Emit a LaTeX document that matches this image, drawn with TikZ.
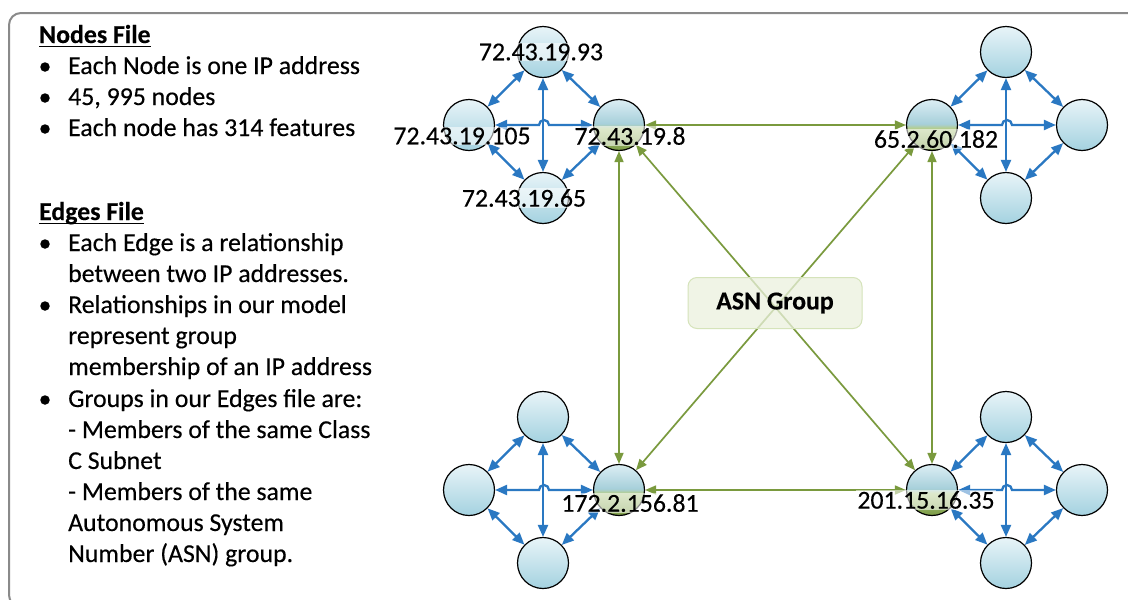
\documentclass[tikz,border=0pt]{standalone}
\usepackage{fontspec}
\setmainfont[FakeBold=0.3,BoldFeatures={FakeBold=0.3}]{Carlito}
\usetikzlibrary{arrows.meta}
\definecolor{leafTop}{HTML}{E8F4F8}
\definecolor{leafBot}{HTML}{A4D2E0}
\definecolor{hubTop}{HTML}{DCEEF4}
\definecolor{hubMid}{HTML}{A6CFDA}
\definecolor{hubGr}{HTML}{B5CD8C}
\definecolor{hubBot}{HTML}{7A9A44}
\definecolor{linkBlue}{HTML}{2A78C2}
\definecolor{linkGreen}{HTML}{7A9A3E}
\definecolor{frameGray}{HTML}{8A8A8A}
\definecolor{asnFill}{HTML}{EBF1DE}
\definecolor{asnDraw}{HTML}{D5E3BA}
\pgfdeclareverticalshading{hubshade}{100bp}{color(0bp)=(hubBot); color(25bp)=(hubBot); color(47bp)=(hubGr); color(51bp)=(hubMid); color(75bp)=(hubTop); color(100bp)=(hubTop)}
\newcommand\clusterlinks[5]{%
  \draw[bluelink] (#1) -- (#2);
  \draw[bluelink] (#1) -- (#3);
  \draw[bluelink] (#4) -- (#2);
  \draw[bluelink] (#4) -- (#3);
  \draw[bluelink] (#1) -- (#4);
  \draw[bluelink] (#2.east) -- ([xshift=-5pt]#5) arc[start angle=180,end angle=360,radius=5] -- (#3.west);
}
\begin{document}
\begin{tikzpicture}[x=1pt,y=-1pt,
  txt/.style={anchor=base west, inner sep=0pt, font=\fontsize{25.8}{31}\selectfont},
  hd/.style={anchor=base west, inner sep=0pt, font=\fontsize{25.8}{31}\selectfont\bfseries},
  bul/.style={circle, fill=black, inner sep=0pt, minimum size=9.5pt},
  leaf/.style={circle, draw=black, line width=1.2pt, minimum size=51pt, inner sep=0pt, top color=leafTop, bottom color=leafBot},
  hub/.style={circle, draw=black, line width=1.2pt, minimum size=51pt, inner sep=0pt, shade, shading=hubshade},
  lbl/.style={fill=white, fill opacity=0.55, text opacity=1, inner sep=1pt, font=\fontsize{25.8}{31}\selectfont},
  bluelink/.style={draw=linkBlue, line width=2.3pt, {Triangle[length=12pt,width=10pt]}-{Triangle[length=12pt,width=10pt]}},
  greenlink/.style={draw=linkGreen, line width=1.7pt, {Triangle[length=11pt,width=9pt]}-{Triangle[length=11pt,width=9pt]}}
]
\useasboundingbox (0,0) rectangle (1128,600);
\clip (0,0) rectangle (1128,600);
\fill[white] (0,0) rectangle (1128,600);
\draw[frameGray, line width=2pt, rounded corners=12pt] (9,13) rectangle (1150,607);

% ---- left text ----
\node[hd] (h1) at (39,43) {Nodes File};
\draw[line width=1.6pt] ([yshift=-3.5pt]h1.base west) -- ([yshift=-3.5pt]h1.base east);
\node[bul] (b1) at (45,67) {};
\node[txt] (t1) at (68,74) {Each Node is one IP address};
\node[bul] (b2) at (45,98) {};
\node[txt] (t2) at (68,105) {45, 995 nodes};
\node[bul] (b3) at (45,129) {};
\node[txt] (t3) at (68,136) {Each node has 314 features};

\node[hd] (h2) at (39,220) {Edges File};
\draw[line width=1.6pt] ([yshift=-3.5pt]h2.base west) -- ([yshift=-3.5pt]h2.base east);
\node[bul] (b4) at (45,244) {};
\node[txt] (t4) at (68,251) {Each Edge is a relationship};
\node[txt] (t5) at (68,282) {between two IP addresses.};
\node[bul] (b5) at (45,306) {};
\node[txt] (t6) at (68,313) {Relationships in our model};
\node[txt] (t7) at (68,344) {represent group};
\node[txt] (t8) at (68,375) {membership of an IP address};
\node[bul] (b6) at (45,400) {};
\node[txt] (t9) at (68,407) {Groups in our Edges file are:};
\node[txt] (t10) at (68,438) {- Members of the same Class};
\node[txt] (t11) at (68,469) {C Subnet};
\node[txt] (t12) at (68,500) {- Members of the same};
\node[txt] (t13) at (68,531) {Autonomous System};
\node[txt] (t14) at (68,562) {Number (ASN) group.};

% ---- cluster centres ----
\coordinate (ca) at (544,125);
\coordinate (cb) at (1007,125);
\coordinate (cc) at (544,490);
\coordinate (cd) at (1007,490);

% ---- circles ----
\node[leaf] (an) at (543,52) {};
\node[leaf] (aw) at (469,125) {};
\node[hub]  (ae) at (619,125) {};
\node[leaf] (as) at (543,198) {};

\node[hub]  (bw) at (932,125) {};
\node[leaf] (bn) at (1006,52) {};
\node[leaf] (be) at (1082,125) {};
\node[leaf] (bs) at (1006,198) {};

\node[leaf] (cn) at (543,417) {};
\node[leaf] (cw) at (469,490) {};
\node[hub]  (ce) at (619,490) {};
\node[leaf] (cs) at (543,563) {};

\node[hub]  (dw) at (932,490) {};
\node[leaf] (dn) at (1006,417) {};
\node[leaf] (de) at (1082,490) {};
\node[leaf] (ds) at (1006,563) {};

% ---- blue links ----
\clusterlinks{an}{aw}{ae}{as}{ca}
\clusterlinks{bn}{bw}{be}{bs}{cb}
\clusterlinks{cn}{cw}{ce}{cs}{cc}
\clusterlinks{dn}{dw}{de}{ds}{cd}

% ---- green links ----
\draw[greenlink] (ae) -- (bw);
\draw[greenlink] (ae) -- (ce);
\draw[greenlink] (bw) -- (dw);
\draw[greenlink] (ce) -- (dw);
\draw[greenlink] (ae) -- (dw);
\draw[greenlink] (bw) -- (ce);

% ---- ASN group ----
\node[draw=asnDraw, line width=1pt, fill=asnFill, fill opacity=0.75, text opacity=1,
      rounded corners=9pt, minimum width=174pt, minimum height=51pt,
      font=\fontsize{25.8}{31}\selectfont\bfseries] (asn) at (775,303) {ASN Group};

% ---- labels ----
\node[lbl] (l93) at (541,52) {72.43.19.93};
\node[lbl] (l105) at (462,136) {72.43.19.105};
\node[lbl] (l8) at (630,136) {72.43.19.8};
\node[lbl] (l65) at (524,198) {72.43.19.65};
\node[lbl] (l182) at (936,139) {65.2.60.182};
\node[lbl] (l81) at (630,503) {172.2.156.81};
\node[lbl] (l35) at (926,500) {201.15.16.35};
\end{tikzpicture}
\end{document}
